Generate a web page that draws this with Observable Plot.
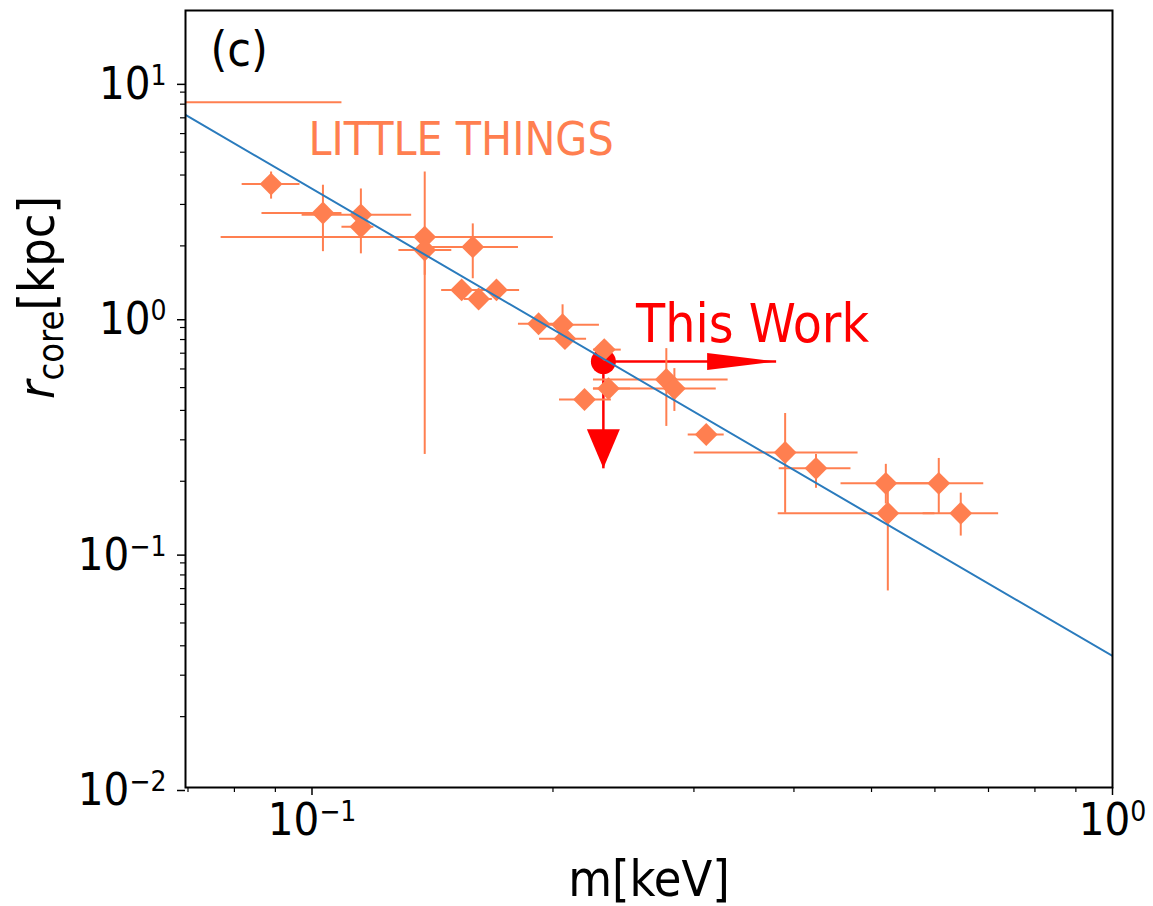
<!DOCTYPE html>
<html><head><meta charset="utf-8">
<script src="https://cdn.jsdelivr.net/npm/d3@7"></script>
<script src="https://cdn.jsdelivr.net/npm/@observablehq/plot@0.6"></script>
<style>
html,body{margin:0;padding:0;background:#fff;}
svg{display:block;}
</style>
</head><body><div id="chart"></div>
<script>
// ---- LITTLE THINGS galaxies (m [keV], r_core [kpc]) ----
const mass    = [0.05,  0.0889, 0.1032, 0.1151, 0.1151, 0.1383, 0.1383, 0.1588, 0.1538, 0.1615, 0.170, 0.1919, 0.2056, 0.207, 0.2318, 0.2346, 0.2190, 0.2771, 0.2836, 0.3108, 0.390, 0.4262, 0.521, 0.524, 0.6067, 0.6463];
const massLo  = [0.035, 0.0818, 0.0866, 0.0972, 0.109,  0.0770, 0.1284, 0.139,  0.1452, 0.155,  0.160, 0.1811, 0.190,  0.1924, 0.2247, 0.2247, 0.2038, 0.2247, 0.2247, 0.2951, 0.3003, 0.3834, 0.458, 0.3823, 0.530, 0.580];
const massHi  = [0.109, 0.0966, 0.109,  0.1332, 0.1195, 0.2002, 0.1495, 0.1811, 0.163,  0.168,  0.1817, 0.205, 0.2286, 0.2203, 0.2434, 0.250, 0.2366, 0.331, 0.3199, 0.3273, 0.481, 0.4713, 0.600, 0.600, 0.6905, 0.7207];
const rcore   = [8.15,  3.66, 2.76, 2.71, 2.41, 2.18, 1.92, 1.98, 1.30, 1.19, 1.30, 0.934, 0.925, 0.807, 0.725, 0.495, 0.445, 0.541, 0.495, 0.316, 0.265, 0.227, 0.196, 0.1463, 0.196, 0.1463];
const rcoreLo = [8.15,  3.16, 1.89, 2.20, 1.85, 1.50, 0.26, 1.45, 1.22, 1.12, 1.22, 0.88, 0.80, 0.732, 0.68, 0.46, 0.42, 0.342, 0.396, 0.30, 0.1463, 0.1867, 0.16, 0.0684, 0.146, 0.117];
const rcoreHi = [8.15,  4.12, 3.62, 3.49, 2.60, 4.12, 2.30, 2.48, 1.38, 1.26, 1.38, 0.99, 1.124, 0.88, 0.77, 0.53, 0.47, 0.732, 0.602, 0.333, 0.388, 0.260, 0.236, 0.20, 0.250, 0.178];

// ---- This Work (point with limit arrows) ----
const workMass = [0.2312];
const workRcore = [0.645];
const workArrowMassTip = [0.380];   // horizontal arrow tip
const workArrowRcoreTip = [0.227];  // downward arrow tip

// ---- fitted line (endpoints) ----
const fitMass = [0.0695, 1];
const fitRcore = [7.2, 0.0362];

// ---- annotations ----
const littleThingsPos = [0.099, 4.86];
const thisWorkPos = [0.254, 0.78];

// ---- ticks ----
const xMajor = [0.1, 1];
const xMinor = [0.07, 0.08, 0.09, 0.2, 0.3, 0.4, 0.5, 0.6, 0.7, 0.8, 0.9];
const yMajor = [0.01, 0.1, 1, 10];
const yMinor = [0.02,0.03,0.04,0.05,0.06,0.07,0.08,0.09,0.2,0.3,0.4,0.5,0.6,0.7,0.8,0.9,2,3,4,5,6,7,8,9];

const coral = "#FF7F50";
const table = mass.map((m, i) => ({m, r: rcore[i], mlo: massLo[i], mhi: massHi[i], rlo: rcoreLo[i], rhi: rcoreHi[i]}));
const work = workMass.map((m, i) => ({m, r: workRcore[i], mt: workArrowMassTip[i], rt: workArrowRcoreTip[i]}));

const headRight = {draw(ctx) { ctx.moveTo(0, 0); ctx.lineTo(-69, -8.5); ctx.lineTo(-69, 8.5); ctx.closePath(); }};
const headDown = {draw(ctx) { ctx.moveTo(0, 0); ctx.lineTo(-16.5, -39); ctx.lineTo(16.5, -39); ctx.closePath(); }};
const fmt = d => "10^" + Math.round(Math.log10(d));

const chart = Plot.plot({
  width: 1153, height: 906,
  marginLeft: 185, marginRight: 41, marginTop: 10, marginBottom: 119,
  style: {fontFamily: "DejaVu Sans", fontStretch: "condensed", background: "white", color: "black"},
  x: {type: "log", domain: [0.0695, 1], label: null},
  y: {type: "log", domain: [0.01, 20], label: null},
  marks: [
    // This Work arrows + point
    Plot.link(work, {x1: "m", y1: "r", x2: "mt", y2: "r", stroke: "red", strokeWidth: 2.5}),
    Plot.link(work, {x1: "m", y1: "r", x2: "m", y2: "rt", stroke: "red", strokeWidth: 2.5}),
    Plot.dot(work, {x: "mt", y: "r", symbol: headRight, fill: "red", stroke: "none"}),
    Plot.dot(work, {x: "m", y: "rt", symbol: headDown, fill: "red", stroke: "none"}),
    Plot.dot(work, {x: "m", y: "r", r: 12.5, fill: "red", stroke: "none"}),
    // LITTLE THINGS errorbars
    Plot.ruleY(table, {y: "r", x1: "mlo", x2: "mhi", stroke: coral, strokeWidth: 2, clip: true}),
    Plot.ruleX(table, {x: "m", y1: "rlo", y2: "rhi", stroke: coral, strokeWidth: 2, clip: true}),
    Plot.dot(table, {x: "m", y: "r", symbol: "diamond2", r: 10.3, fill: coral, stroke: "none", clip: true}),
    // fit line
    Plot.line(fitMass.map((m, i) => ({m, r: fitRcore[i]})), {x: "m", y: "r", stroke: "#2a7bbd", strokeWidth: 2, clip: true}),
    // annotations
    Plot.text(["LITTLE THINGS"], {x: () => littleThingsPos[0], y: () => littleThingsPos[1], fill: coral, fontSize: 46, textAnchor: "start", lineAnchor: "bottom"}),
    Plot.text(["This Work"], {x: () => thisWorkPos[0], y: () => thisWorkPos[1], fill: "red", fontSize: 53, textAnchor: "start", lineAnchor: "bottom"}),
    Plot.text(["(c)"], {frameAnchor: "top-left", dx: 25, dy: 55, fontSize: 48, textAnchor: "start", lineAnchor: "bottom", fill: "black"}),
    // frame
    Plot.frame({stroke: "black", strokeWidth: 2}),
    // axes
    Plot.axisX({ticks: xMinor, tickSize: 5, tickFormat: () => "", label: null, strokeWidth: 1.2}),
    Plot.axisX({ticks: xMajor, tickSize: 8, tickPadding: 8, tickFormat: fmt, fontSize: 45, label: null, strokeWidth: 1.5}),
    Plot.axisY({ticks: yMinor, tickSize: 5, tickFormat: () => "", label: null, strokeWidth: 1.2}),
    Plot.axisY({ticks: yMajor, tickSize: 8, tickPadding: 11, tickFormat: fmt, fontSize: 45, label: null, strokeWidth: 1.5, dy: 3}),
    // axis labels
    Plot.text(["m[keV]"], {frameAnchor: "bottom", dy: 108, fontSize: 50, lineAnchor: "bottom", fill: "black"}),
    Plot.text(["r_core[kpc]"], {frameAnchor: "left", dx: -132, rotate: -90, fontSize: 50, lineAnchor: "bottom", fill: "black"})
  ]
});

const NS = "http://www.w3.org/2000/svg";
chart.querySelectorAll("text").forEach(t => {
  const s = t.textContent;
  const mm = /^10\^(-?\d+)$/.exec(s);
  if (mm) {
    t.textContent = "";
    const b = document.createElementNS(NS, "tspan"); b.textContent = "10";
    const sp = document.createElementNS(NS, "tspan");
    sp.textContent = mm[1].replace("-", "\u2212");
    sp.setAttribute("font-size", "28");
    sp.setAttribute("dy", "-14");
    t.append(b, sp);
  } else if (s === "r_core[kpc]") {
    t.textContent = "";
    const a = document.createElementNS(NS, "tspan"); a.textContent = "r"; a.setAttribute("font-style", "italic");
    const c = document.createElementNS(NS, "tspan"); c.textContent = "core"; c.setAttribute("font-size", "36"); c.setAttribute("dy", "9");
    const k = document.createElementNS(NS, "tspan"); k.textContent = "[kpc]"; k.setAttribute("dy", "-9");
    t.append(a, c, k);
  }
});
document.getElementById("chart").append(chart);
</script>
</body></html>
